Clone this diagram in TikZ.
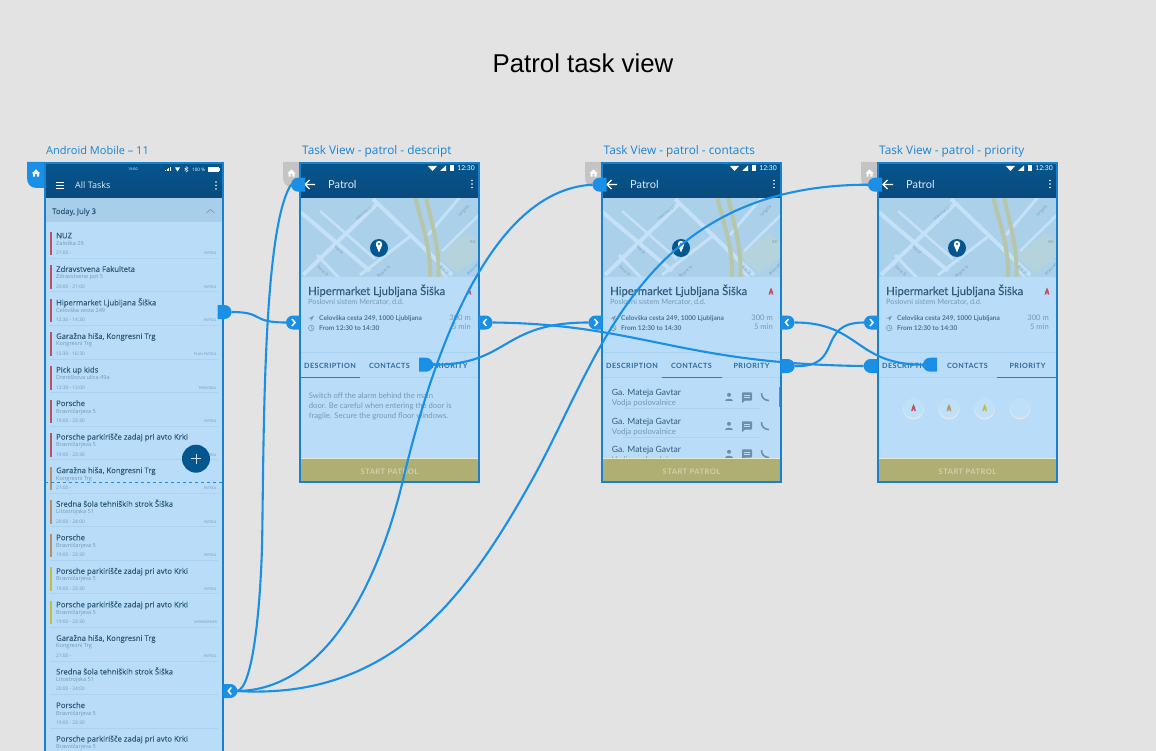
\documentclass[tikz,border=0pt]{standalone}
\usepackage{fontspec}
\setmainfont{Open Sans}
\newfontfamily\latofont{Lato}
\newfontfamily\latomed[UprightFeatures={FakeBold=.25}]{Lato}
\newfontfamily\rowfont[UprightFeatures={FakeBold=.15}]{Open Sans}
\newfontfamily\tabfont[LetterSpace=6]{Lato}
\newfontfamily\arialfont{Liberation Sans}
\usetikzlibrary{positioning,shapes.misc}
\definecolor{canvasGrey}{HTML}{E3E3E3}
\definecolor{wireBlue}{HTML}{1A8FE6}
\definecolor{screenBlue}{HTML}{B9DDF8}
\definecolor{sectionBlue}{HTML}{A8CFE9}
\definecolor{headTop}{HTML}{04568F}
\definecolor{headBot}{HTML}{0A4A7C}
\definecolor{mapBlue}{HTML}{ABD0EA}
\definecolor{streetBlue}{HTML}{C4E1F7}
\definecolor{roadTan}{HTML}{B7C5A8}
\definecolor{blockBlue}{HTML}{B4D3DC}
\definecolor{oliveBand}{HTML}{AFAE73}
\definecolor{oliveText}{HTML}{CDD2AE}
\definecolor{inkDark}{HTML}{2F5B7E}
\definecolor{inkSoft}{HTML}{7499B4}
\definecolor{inkTab}{HTML}{2B6A9C}
\definecolor{lineBlue}{HTML}{ABD3F0}
\definecolor{tabGrey}{HTML}{C4C4C4}
\definecolor{barRed}{HTML}{C0505F}
\definecolor{barOrange}{HTML}{BE8F60}
\definecolor{barYellow}{HTML}{C4BB3F}
\tikzset{
	% frame names above the screens
	framename/.style={anchor=base west, inner sep=0pt, text=wireBlue!92!black, font=\fontsize{11.8}{13}\selectfont},
	% text on the screens
	rowtitle/.style={anchor=base west, inner sep=0pt, text=inkDark, font=\rowfont\fontsize{7.7}{9}\selectfont},
	rowsub/.style={anchor=base west, inner sep=0pt, text=inkSoft, font=\fontsize{5.6}{7}\selectfont},
	rowtag/.style={anchor=base east, inner sep=0pt, text=inkSoft, font=\fontsize{3.6}{5}\selectfont},
	headtext/.style={anchor=base west, inner sep=0pt, text=white!88!headTop, font=\latofont\fontsize{11}{13}\selectfont},
	cardtitle/.style={anchor=base west, inner sep=0pt, text=inkDark, font=\latomed\fontsize{11.3}{13}\selectfont},
	cardsub/.style={anchor=base west, inner sep=0pt, text=inkSoft, font=\latofont\fontsize{7.3}{10}\selectfont},
	cardinfo/.style={anchor=base west, inner sep=0pt, text=inkDark!80!screenBlue, font=\latofont\bfseries\fontsize{6.6}{8}\selectfont},
	cardnum/.style={anchor=base east, inner sep=0pt, text=inkSoft, font=\latofont\fontsize{7.6}{9}\selectfont},
	tablabel/.style={anchor=base, inner sep=0pt, text=inkTab, font=\tabfont\bfseries\fontsize{7.2}{9}\selectfont},
	bodytext/.style={anchor=base west, inner sep=0pt, text=inkSoft, font=\latofont\fontsize{7.7}{10}\selectfont},
	bandtext/.style={anchor=base, inner sep=0pt, text=oliveText, font=\tabfont\bfseries\fontsize{7.6}{9}\selectfont},
	streetname/.style={inner sep=0pt, text=inkSoft, font=\fontsize{3.8}{5}\selectfont},
	street/.style={draw=streetBlue, line width=#1},
	street/.default=4pt,
	% connector style
	wire/.style={draw=wireBlue, line width=2.1pt},
	% handles on the frame edges
	handle/.style={fill=wireBlue, rounded rectangle, minimum width=13pt, minimum height=14pt, inner sep=0pt, outer sep=0pt},
	handleL/.style={handle, rounded rectangle east arc=none},
	handleR/.style={handle, rounded rectangle west arc=none},
	chevR/.style={handleL, path picture={\draw[white, line width=1.5pt] ([xshift=-1pt,yshift=3.5pt]path picture bounding box.center) -- ++(3pt,-3.5pt) -- ++(-3pt,-3.5pt);}},
	chevL/.style={handleR, path picture={\draw[white, line width=1.5pt] ([xshift=1pt,yshift=3.5pt]path picture bounding box.center) -- ++(-3pt,-3.5pt) -- ++(3pt,-3.5pt);}}
}
% small icons, all at coordinates
\newcommand{\homeicon}[2]{\fill[white] (#1-4.2,#2+.4) -- (#1,#2-3.6) -- (#1+4.2,#2+.4) -- (#1+3,#2+.4) -- (#1+3,#2+3.6) -- (#1+.9,#2+3.6) -- (#1+.9,#2+1) -- (#1-.9,#2+1) -- (#1-.9,#2+3.6) -- (#1-3,#2+3.6) -- (#1-3,#2+.4) -- cycle;}
\newcommand{\flameicon}[3]{\fill[#3] (#1,#2-4) .. controls (#1+.6,#2-1.5) and (#1+2.6,#2) .. (#1+2.4,#2+3.2) -- (#1+.9,#2+3.2) .. controls (#1+.9,#2+1.5) and (#1+.3,#2+1) .. (#1,#2+.4) .. controls (#1-.3,#2+1) and (#1-.9,#2+1.5) .. (#1-.9,#2+3.2) -- (#1-2.4,#2+3.2) .. controls (#1-2.6,#2+.6) and (#1-.8,#2-1) .. (#1,#2-4) -- cycle;}
\newcommand{\contacticons}[1]{
	\fill[inkSoft!85!inkDark] (127,#1-2.2) circle (2);
	\fill[inkSoft!85!inkDark] (123,#1+3.6) .. controls (123,#1+.6) and (131,#1+.6) .. (131,#1+3.6) -- cycle;
	\fill[inkSoft!85!inkDark,rounded corners=.8pt] (140,#1-4.6) rectangle (150,#1+3.6);
	\fill[inkSoft!85!inkDark] (140.2,#1+3) -- (140.2,#1+6) -- (143.4,#1+3) -- cycle;
	\draw[screenBlue,line width=.8pt] (142,#1-2) -- (148,#1-2) (142,#1+.6) -- (148,#1+.6);
	\draw[inkSoft!85!inkDark,line width=1.6pt] (159.5,#1-3.8) .. controls (159.5,#1+.5) and (162,#1+3.2) .. (167,#1+3.6);
}
% one task screen: name, left edge, start of the tab underline, contents of the tab
\newcommand{\patrolscreen}[4]{
	\begin{scope}[shift={(#2,163)}]
		\fill[tabGrey] (-17,-1) -- (-17,14) .. controls (-17,21) and (-14,24) .. (-7,24) -- (0,24) -- (0,-1) -- cycle;
		\homeicon{-8.5}{10}
		\fill[screenBlue] (0,0) rectangle (179,319);
		\shade[top color=headTop, bottom color=headBot] (0,0) rectangle (179,35);
		\draw[wireBlue!45!headBot,line width=.6pt] (0,35) -- (179,35);
		% status bar
		\fill[white] (128,3) -- (137,3) -- (132.5,8) -- cycle;
		\fill[white] (140,8) -- (146,8) -- (146,2.5) -- cycle;
		\fill[white] (149.5,2.5) rectangle (153.5,8.2);
		\node[inner sep=0pt, text=white, font=\latofont\fontsize{6.8}{8}\selectfont, anchor=east] (#1Clock) at (175,5.3) {12:30};
		% bar with back arrow
		\draw[white,line width=1.2pt] (5,21.5) -- (15,21.5) (9.5,17) -- (5,21.5) -- (9.5,26);
		\node[headtext] (#1Head) at (28,25.7) {Patrol};
		\foreach \dy in {-3.5,0,3.5} \fill[white] (172,21+\dy) circle (.9);
		% map
		\begin{scope}
			\clip (0,35.5) rectangle (179,118);
			\fill[mapBlue] (0,35) rectangle (179,118);
			\fill[blockBlue] (137,92) -- (167,70) -- (179,79) -- (179,94) -- (157,110) -- cycle;
			\draw[street] (-2,47) -- (70,108);
			\draw[street] (73,36) -- (152,112);
			\draw[street] (3,112) -- (78,40);
			\draw[street=3pt] (60,112) -- (112,72);
			\draw[street=3pt] (128,72) -- (160,34);
			\draw[street=3pt] (17,92) -- (42,118);
			\draw[street=2.5pt] (20,48) -- (75,96);
			\draw[street=2.5pt] (142,88) -- (179,52);
			\draw[street=2.5pt] (137,104) -- (150,118);
			\draw[roadTan,line width=4pt] (115,33) .. controls (121,60) and (132,85) .. (130,120);
			\draw[roadTan,line width=4pt] (126,33) .. controls (131,60) and (141,85) .. (138,120);
			\node[streetname, rotate=38] (#1StreetA) at (64,50) {Harrison St};
			\node[streetname, rotate=-40] (#1StreetB) at (39,87) {9th St};
			\node[streetname, rotate=-40] (#1StreetC) at (23,108) {Dore St};
			\node[streetname, rotate=40] (#1StreetD) at (84,109) {Bryant St};
			\node[streetname, rotate=45] (#1StreetE) at (164,48) {Langton};
			\node[streetname, rotate=-40] (#1StreetF) at (145,107) {8th St};
			\node[streetname, rotate=45] (#1StreetG) at (173,106) {Brannan};
			\node[streetname] (#1StreetH) at (173,79) {REI};
			\fill[headTop] (79,85) circle (9);
			\fill[white] (79,81) circle (3.2);
			\fill[white] (75.9,82) -- (79,89.5) -- (82.1,82) -- cycle;
			\fill[headTop] (79,81) circle (1.1);
		\end{scope}
		% card
		\fill[screenBlue,rounded corners=3pt] (0,114) rectangle (179,140);
		\fill[screenBlue] (0,120) rectangle (179,296);
		\node[cardtitle] (#1Title) at (8,132) {Hipermarket Ljubljana Šiška};
		\node[cardsub] (#1Sub) at (8,142) {Poslovni sistem Mercator, d.d.};
		\flameicon{169}{128.5}{barRed}
		\fill[inkSoft] (8.5,155.5) -- (14,152.5) -- (11.5,158) -- (11,155.5) -- cycle;
		\draw[inkSoft,line width=.6pt] (11.3,165) circle (2.8) (11.3,163.4) -- (11.3,165) -- (12.6,165.6);
		\node[cardinfo] (#1Addr) at (19,157) {Celovška cesta 249, 1000 Ljubljana};
		\node[cardinfo] (#1Time) at (19,167) {From 12:30 to 14:30};
		\node[cardnum] (#1Dist) at (171,157) {300 m};
		\node[cardnum] (#1Mins) at (171,166) {5 min};
		% tabs
		\draw[lineBlue,line width=.7pt] (0,189) -- (179,189) (0,214) -- (179,214);
		\node[tablabel] (#1TabA) at (30,205) {DESCRIPTION};
		\node[tablabel] (#1TabB) at (89.5,205) {CONTACTS};
		\node[tablabel] (#1TabC) at (149.5,205) {PRIORITY};
		\draw[wireBlue!60!inkTab,line width=.8pt] (#3,214) -- ++(60,0);
		#4
		% bottom band and frame
		\fill[oliveBand] (0,295) rectangle (179,319);
		\draw[white!70!oliveBand,line width=.5pt] (0,295) -- (179,295);
		\node[bandtext] (#1Band) at (89.5,311) {START PATROL};
		\draw[wireBlue!90!black,line width=1.1pt] (0,0) rectangle (179,319);
	\end{scope}
}
\begin{document}
\begin{tikzpicture}[x=1pt,y=-1pt]
	\useasboundingbox[fill=canvasGrey] (0,0) rectangle (1156,751);
	
	\node[inner sep=0pt, font=\arialfont\fontsize{25.8}{30}\selectfont] (mainTitle) at (583,63) {Patrol task view};
	\node[framename, font=\fontsize{11}{13}\selectfont] (listName) at (46,154.7) {Android Mobile -- 11};
	\node[framename] (descName) at (302,154.7) {Task View - patrol - descript};
	\node[framename] (contName) at (603.5,154.7) {Task View - patrol - contacts};
	\node[framename] (prioName) at (879,154.7) {Task View - patrol - priority};
	
	% list screen
	\fill[wireBlue] (27,162) -- (27,177) .. controls (27,184) and (30,188) .. (37,188) -- (44,188) -- (44,162) -- cycle;
	\homeicon{36}{173}
	\begin{scope}
		\clip (44,162) rectangle (225,751);
		\fill[screenBlue] (45,163) rectangle (223,751);
		\shade[top color=headTop, bottom color=headBot] (45,163) rectangle (223,198);
		\fill[sectionBlue] (45,198) rectangle (223,222);
		\node[inner sep=0pt, text=white, font=\fontsize{3.6}{5}\selectfont] (listClock) at (133,169) {19:00};
		\foreach \bx/\bh in {165/1.5,166.6/2.5,168.2/3.5,169.8/4.5} \fill[white] (\bx,171.5-\bh) rectangle ++(1,\bh);
		\fill[white] (175,167.5) -- (180,167.5) -- (177.5,171.5) -- cycle;
		\draw[white,line width=.4pt] (186,166.5) -- (186,172) -- (188,170.5) -- (184.5,168) (186,166.5) -- (188,168) -- (184.5,170.5);
		\node[inner sep=0pt, anchor=west, text=white, font=\fontsize{4.6}{6}\selectfont] (listBatt) at (192,169.5) {100 \%};
		\fill[white] (208,167) rectangle (219,172);
		\fill[white] (219,168.3) rectangle (220,170.7);
		\draw[white,line width=.9pt] (56,182) -- (64,182) (56,185.4) -- (64,185.4) (56,188.8) -- (64,188.8);
		\node[headtext, font=\fontsize{9}{11}\selectfont] (listHead) at (75,189) {All Tasks};
		\foreach \dy in {-3.5,0,3.5} \fill[white] (216,185.5+\dy) circle (.9);
		\node[rowtitle] (listDate) at (52,214) {Today, July 3};
		\draw[inkSoft,line width=.6pt] (206.5,213) -- (210.5,209.5) -- (214.5,213);
		\foreach \i/\ttl/\adr/\tme/\tagname/\col in {
			0/NUZ/Zaloška 29/21:00 -/PATROL/barRed,
			1/Zdravstvena Fakulteta/Zdravstvena pot 5/20:00 - 21:00/PATROL/barRed,
			2/Hipermarket Ljubljana Šiška/Celovška cesta 249/12:30 - 14:30/PATROL/barRed,
			3/{Garažna hiša, Kongresni Trg}/Kongresni Trg/15:30 - 16:30/PLAN PATROL/barRed,
			4/Pick up kids/Dreniškova ulica 49a/12:30 - 13:00/PERSONAL/barRed,
			5/Porsche/Bravničarjeva 5/19:00 - 23:30/PATROL/barRed,
			6/Porsche parkirišče zadaj pri avto Krki/Bravničarjeva 5/19:00 - 23:30/PATROL/barRed,
			7/{Garažna hiša, Kongresni Trg}/Kongresni Trg/21:00 -/PATROL/barOrange,
			8/Sredna šola tehniških strok Šiška/Litostrojska 51/20:00 - 24:00/PATROL/barOrange,
			9/Porsche/Bravničarjeva 5/19:00 - 23:30/PATROL/barOrange,
			10/Porsche parkirišče zadaj pri avto Krki/Bravničarjeva 5/19:00 - 23:30/PATROL/barYellow,
			11/Porsche parkirišče zadaj pri avto Krki/Bravničarjeva 5/19:00 - 23:30/WORKORDER/barYellow,
			12/{Garažna hiša, Kongresni Trg}/Kongresni Trg/21:00 -/PATROL/none,
			13/Sredna šola tehniških strok Šiška/Litostrojska 51/20:00 - 24:00//none,
			14/Porsche/Bravničarjeva 5/19:00 - 23:30//none,
			15/Porsche parkirišče zadaj pri avto Krki/Bravničarjeva 5///none}{
			\pgfmathsetmacro\ry{235.3+33.55*\i}
			\path[fill=\col] (50,\ry-3.5) rectangle (52,\ry+20);
			\node[rowtitle] (rowTitle\i) at (56,\ry+3) {\ttl};
			\node[rowsub] (rowSub\i) at (56,\ry+10) {\adr};
			\node[rowsub, font=\fontsize{4.8}{6}\selectfont] (rowTime\i) at (56,\ry+19.5) {\tme};
			\node[rowtag] (rowTag\i) at (217,\ry+19.5) {\tagname};
			\draw[lineBlue,line width=.8pt] (50,\ry+23) -- (218,\ry+23);
		}
	\end{scope}
	\draw[wireBlue!90!black,line width=1.1pt] (45,751) -- (45,163) -- (223,163) -- (223,751);
	\fill[headTop] (196,458.7) circle (14);
	\draw[white!80!headTop,line width=.7pt] (191,458.7) -- (201,458.7) (196,453.7) -- (196,463.7);
	\draw[wireBlue,line width=.8pt,dashed] (45,482.3) -- (223,482.3);
	
	% task screens
	\patrolscreen{desc}{300}{0}{
		\node[bodytext] (descLineA) at (8.7,235) {Switch off the alarm behind the main};
		\node[bodytext] (descLineB) at (8.7,245) {door. Be careful when entering the door is};
		\node[bodytext] (descLineC) at (8.7,255) {fragile. Secure the ground floor windows.};
	}
	\patrolscreen{cont}{602}{60}{
		\foreach \j/\ny in {0/229,1/258,2/286}{
			\node[cardtitle, font=\latofont\fontsize{8.6}{10}\selectfont] (contName\j) at (9.7,\ny+3) {Ga. Mateja Gavtar};
			\node[cardsub, font=\latofont\fontsize{7.9}{9}\selectfont] (contRole\j) at (9.7,\ny+13) {Vodja poslovalnice};
			\contacticons{\ny+5}
			\draw[lineBlue,line width=.5pt] (21,\ny+16) -- (158,\ny+16);
		}
		\fill[inkSoft!85!inkDark] (176.7,224) rectangle (178.5,244);
	}
	\patrolscreen{prio}{878}{119}{
		\foreach \k/\cx/\fc in {0/35.5/barRed,1/71/barOrange,2/106.7/barYellow,3/142/none}{
			\fill[black!9] (\cx,246) circle (10.4);
			\fill[screenBlue!92!white] (\cx,245) circle (10);
			\ifnum\k<3 \flameicon{\cx}{245}{\fc}\fi
		}
	}
	
	% handles
	\node[handleR] (listOut) at (224.5,312) {};
	\node[chevL] (listBack) at (230.3,691) {};
	\node[handleL] (descHome) at (298,184.7) {};
	\node[chevR] (descIn) at (293,322.5) {};
	\node[chevL] (descBack) at (485.5,322.5) {};
	\node[handleR] (descPrio) at (426,364.7) {};
	\node[handleL] (contHome) at (599.5,184.7) {};
	\node[chevR] (contIn) at (595.5,322.5) {};
	\node[chevL] (contBack) at (787.5,322.5) {};
	\node[handleR] (contOut) at (787.7,366) {};
	\node[handleL] (prioHome) at (875,184.7) {};
	\node[chevR] (prioIn) at (871,322.5) {};
	\node[handleL] (prioLeft) at (870.7,366) {};
	\node[handleL] (prioDesc) at (930,364.7) {};
	
	% connectors
	\draw[wire] (listOut.east) .. controls (265,312) and (250,322.5) .. (descIn.west);
	\draw[wire] (listBack.east) .. controls (252,688) and (260,615) .. (262,547) .. controls (264,450) and (262,230) .. (descHome.west);
	\draw[wire] (listBack.east) .. controls (325,690) and (378,585) .. (403,480) .. controls (433,354) and (490,190) .. (contHome.west);
	\draw[wire] (listBack.east) .. controls (390,700) and (465,600) .. (532,480) .. controls (599,360) and (640,185) .. (prioHome.west);
	\draw[wire] (descPrio.east) .. controls (510,365) and (500,322.5) .. (contIn.west);
	\draw[wire] (descBack.east) .. controls (640,324) and (680,364) .. (prioLeft.west);
	\draw[wire] (contOut.east) .. controls (845,368) and (815,322.5) .. (prioIn.west);
	\draw[wire] (contBack.east) .. controls (860,322.5) and (855,364.7) .. (prioDesc.west);
\end{tikzpicture}
\end{document}
